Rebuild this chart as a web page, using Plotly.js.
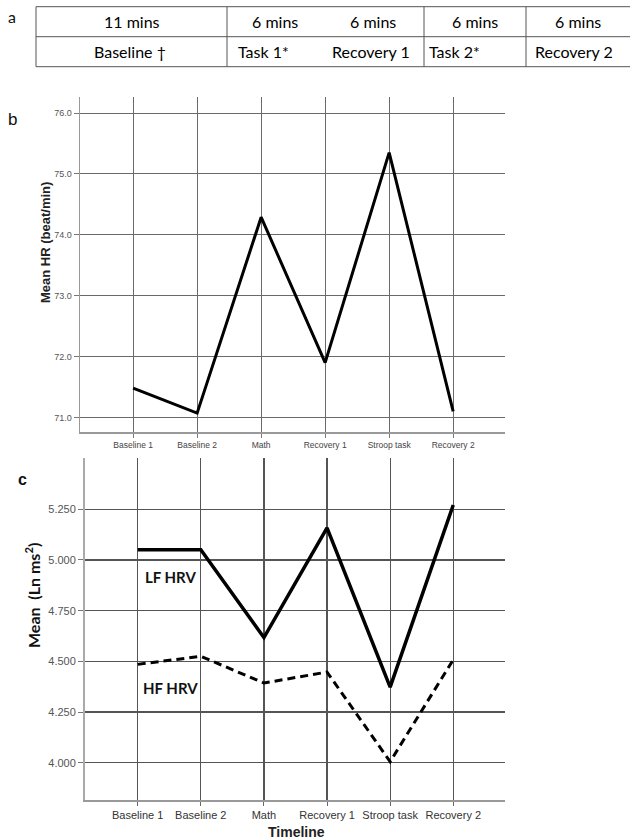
<!DOCTYPE html>
<html>
<head>
<meta charset="utf-8">
<script src="https://cdn.plot.ly/plotly-3.0.1.min.js"></script>
<style>html,body{margin:0;padding:0;background:#fff;}#chart{width:639px;height:839px;}</style>
</head>
<body>
<div id="chart"></div>
<script>
// ---- data ----
const categories = ['Baseline 1', 'Baseline 2', 'Math', 'Recovery 1', 'Stroop task', 'Recovery 2'];
const meanHR = [71.48, 71.07, 74.29, 71.90, 75.35, 71.10];
const lfHRV = [5.051, 5.051, 4.617, 5.158, 4.373, 5.271];
const hfHRV = [4.485, 4.525, 4.393, 4.447, 4.005, 4.508];
const hrTicks = [71, 72, 73, 74, 75, 76];
const lnTicks = [4.0, 4.25, 4.5, 4.75, 5.0, 5.25];
const tableDurations = ['11 mins', '6 mins', '6 mins', '6 mins', '6 mins'];
const tablePhases = ['Baseline \u2020', 'Task 1*', 'Recovery 1', 'Task 2*', 'Recovery 2'];

// ---- layout helpers (pixel -> paper) ----
const W = 639, H = 839;
const px = x => x / W;
const py = y => 1 - y / H;

const durX = [131.5, 275, 373, 475, 578];
const phaseX = [130, 263, 371, 455, 574];

const traces = [
  {x: categories, y: meanHR, xaxis: 'x', yaxis: 'y', type: 'scatter', mode: 'lines',
   line: {color: '#000', width: 3}, hoverinfo: 'skip'},
  {x: categories, y: lfHRV, xaxis: 'x2', yaxis: 'y2', type: 'scatter', mode: 'lines',
   line: {color: '#000', width: 3.5}, hoverinfo: 'skip'},
  {x: categories, y: hfHRV, xaxis: 'x2', yaxis: 'y2', type: 'scatter', mode: 'lines',
   line: {color: '#000', width: 3, dash: '8px,5px'}, hoverinfo: 'skip'}
];

const sans = 'Liberation Sans, Arial, sans-serif';
const cal = 'Lato, Noto Sans, sans-serif';

const shapes = [];
const tLine = {color: '#555', width: 1};
[6.7, 36.7, 66.7].forEach(y => shapes.push({type: 'line', xref: 'paper', yref: 'paper',
  x0: px(36), x1: px(630), y0: py(y), y1: py(y), line: tLine}));
[36, 227, 424, 526].forEach(x => shapes.push({type: 'line', xref: 'paper', yref: 'paper',
  x0: px(x), x1: px(x), y0: py(6.7), y1: py(66.7), line: tLine}));

const annotations = [];
tableDurations.forEach((t, i) => annotations.push({text: t, xref: 'paper', yref: 'paper',
  x: px(durX[i]), y: py(21.7), showarrow: false, xanchor: 'center', yanchor: 'middle',
  font: {family: cal, size: 16, color: '#000'}}));
tablePhases.forEach((t, i) => annotations.push({text: t, xref: 'paper', yref: 'paper',
  x: px(phaseX[i]), y: py(51.7), showarrow: false, xanchor: 'center', yanchor: 'middle',
  font: {family: cal, size: 16, color: '#000'}}));

const addText = (text, x, y, font, angle) => annotations.push({text, xref: 'paper', yref: 'paper',
  x: px(x), y: py(y), showarrow: false, xanchor: 'center', yanchor: 'middle', font, textangle: angle || 0});

addText('a', 12, 17, {family: cal, size: 16, color: '#111'});
addText('b', 12, 119, {family: sans, size: 17, color: '#111'});
addText('c', 22, 479, {family: sans, size: 16, color: '#111', weight: 'bold'});
addText('Mean HR (beat/min)', 45, 243, {family: sans, size: 13, color: '#222', weight: 'bold'}, -90);
addText('Mean  (Ln ms<sup>2</sup>)', 32, 596, {family: cal, size: 16, color: '#111', weight: 'bold'}, -90);
addText('Timeline', 296, 832, {family: sans, size: 14, color: '#222', weight: 'bold'});
addText('LF HRV', 170.5, 576.7, {family: cal, size: 15, color: '#111', weight: 'bold'});
addText('HF HRV', 171, 688, {family: cal, size: 15, color: '#111', weight: 'bold'});

const gridC = '#6a6a6a';
const layout = {
  width: W, height: H,
  margin: {l: 0, r: 0, t: 0, b: 0},
  paper_bgcolor: '#fff', plot_bgcolor: '#fff',
  showlegend: false,
  xaxis: {domain: [px(80), px(505)], anchor: 'y', type: 'category', range: [-0.83, 5.81],
    showgrid: true, gridcolor: gridC, gridwidth: 1, zeroline: false,
    showline: true, linecolor: '#999', linewidth: 1.5,
    ticks: 'outside', ticklen: 4, tickcolor: '#777',
    tickfont: {family: sans, size: 8.5, color: '#444'}, fixedrange: true},
  yaxis: {domain: [py(432), py(96.7)], anchor: 'x', range: [70.76, 76.27],
    tickvals: hrTicks, tickformat: '.1f',
    showgrid: true, gridcolor: gridC, gridwidth: 1, zeroline: false,
    showline: true, linecolor: '#999', linewidth: 1.5,
    ticks: 'outside', ticklen: 5, tickcolor: '#777',
    tickfont: {family: sans, size: 9, color: '#555'}, fixedrange: true},
  xaxis2: {domain: [px(85), px(505)], anchor: 'y2', type: 'category', range: [-0.835, 5.82],
    showgrid: true, gridcolor: '#555', gridwidth: 1.2, zeroline: false,
    showline: true, linecolor: '#999', linewidth: 1.5,
    ticks: 'outside', ticklen: 4, tickcolor: '#666',
    tickfont: {family: sans, size: 11, color: '#333'}, fixedrange: true},
  yaxis2: {domain: [py(800), py(458)], anchor: 'x2', range: [3.816, 5.503],
    tickvals: lnTicks, tickformat: '.3f',
    showgrid: true, gridcolor: '#555', gridwidth: 1.2, zeroline: false,
    showline: true, linecolor: '#aaa', linewidth: 2,
    ticks: 'outside', ticklen: 5, tickcolor: '#777',
    tickfont: {family: sans, size: 11, color: '#555'}, fixedrange: true},
  shapes, annotations
};

Plotly.newPlot('chart', traces, layout, {displayModeBar: false, staticPlot: true});
</script>
</body>
</html>
